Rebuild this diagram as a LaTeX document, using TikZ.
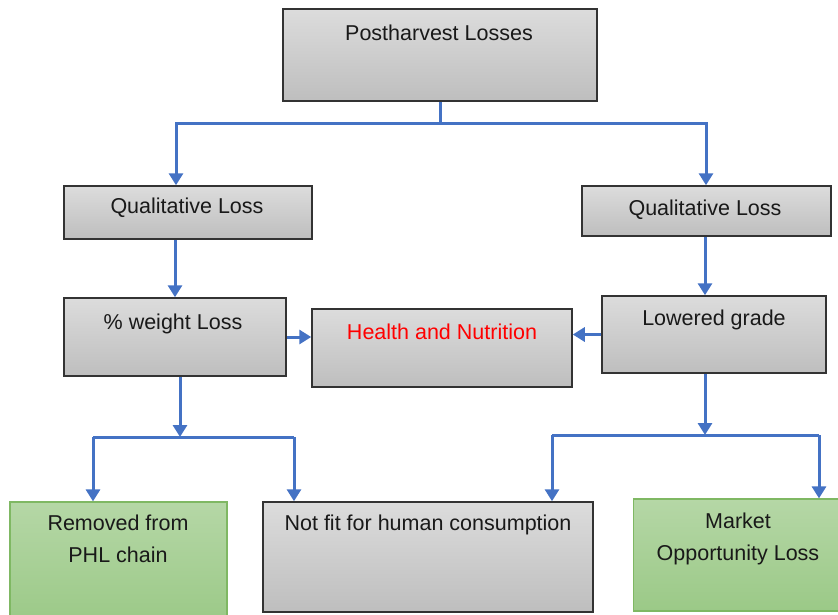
\documentclass[tikz,border=0pt]{standalone}
\usepackage{fontspec}
\setmainfont{Liberation Sans}
\usetikzlibrary{arrows.meta}
\definecolor{flowblue}{HTML}{4472C4}
\definecolor{greytop}{HTML}{DCDCDC}
\definecolor{greybot}{HTML}{BEBEBE}
\definecolor{greentop}{HTML}{B5D7A6}
\definecolor{greenbot}{HTML}{9BC987}
\definecolor{greenedge}{HTML}{7FB863}
\definecolor{lossred}{HTML}{FF0000}
\begin{document}
\begin{tikzpicture}[x=1pt,y=-1pt,
  font=\fontsize{21.5}{32}\selectfont,
  greybox/.style={draw=black!80, line width=1.5pt, top color=greytop, bottom color=greybot,
    inner sep=0pt},
  greenbox/.style={draw=greenedge, line width=1.2pt, top color=greentop, bottom color=greenbot,
    inner sep=0pt},
  label/.style={inner sep=0pt, align=center, text=black!90},
  link/.style={draw=flowblue, line width=3pt},
  flow/.style={link, -{Triangle[length=12pt,width=14pt]}},
]
\useasboundingbox (0,0) rectangle (838,614);

% boxes
\node[greybox, minimum width=314pt, minimum height=92pt] (top) at (440,55) {};
\node[greybox, minimum width=248pt, minimum height=53pt] (ql) at (188,212.5) {};
\node[greybox, minimum width=249pt, minimum height=50pt] (qr) at (706.5,211) {};
\node[greybox, minimum width=222pt, minimum height=78pt] (wl) at (175,337) {};
\node[greybox, minimum width=260pt, minimum height=78pt] (hn) at (442,348) {};
\node[greybox, minimum width=224pt, minimum height=77pt] (lg) at (714,334.5) {};
\node[greenbox, minimum width=217pt, minimum height=122pt] (rm) at (118.5,563) {};
\node[greybox, minimum width=330pt, minimum height=110pt] (nf) at (428,557) {};
\node[greenbox, minimum width=205pt, minimum height=112pt] (mo) at (736,555) {};

% captions, set near the top of each box
\node[label] (top-t) at (439,33) {Postharvest Losses};
\node[label] (ql-t) at (187,208) {Qualitative Loss};
\node[label] (qr-t) at (705,210) {Qualitative Loss};
\node[label] (wl-t) at (173,324) {\% weight Loss};
\node[label, text=lossred] (hn-t) at (442,332) {Health and Nutrition};
\node[label] (lg-t) at (714,320) {Lowered grade};
\node[label] (rm-t) at (118,539) {Removed from\\PHL chain};
\node[label] (nf-t) at (428,525) {Not fit for human consumption};
\node[label] (mo-t) at (738,539) {Market\\Opportunity Loss};

% branching from the top box
\coordinate (j1) at (440,123);
\draw[link] (top.south) -- (j1);
\draw[flow] (j1) -| ([xshift=-12pt]ql.north);
\draw[flow] (j1) -| ([xshift=-0.5pt]qr.north);

% straight downward links
\draw[flow] ([xshift=-13pt]ql.south) -- (wl.north);
\draw[flow] ([xshift=-1.5pt]qr.south) -- ([xshift=-9pt]lg.north);

% both sides feed the centre box
\draw[flow] (wl.east) -- (hn.west |- wl.east);
\draw[flow] (lg.west) -- (hn.east |- lg.west);

% left lower branch
\coordinate (j2) at (180,437);
\draw[flow] ([xshift=5pt]wl.south) -- (j2);
\draw[link] (93,437) -- (294,437);
\draw[flow] (93,437) -- (rm.north -| 93,0);
\draw[flow] (294,437) -- (nf.north -| 294,0);

% right lower branch
\coordinate (j3) at (705,435);
\draw[flow] ([xshift=-9pt]lg.south) -- (j3);
\draw[link] (552,435) -- (819,435);
\draw[flow] (552,435) -- (nf.north -| 552,0);
\draw[flow] (819,435) -- (mo.north -| 819,0);
\end{tikzpicture}
\end{document}
